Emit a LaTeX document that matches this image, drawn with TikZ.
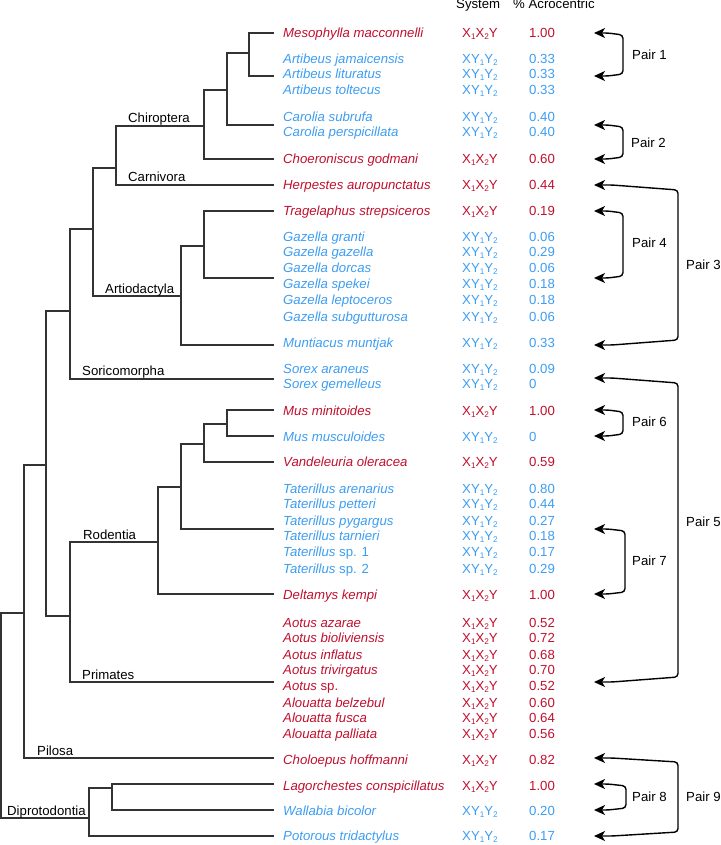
\documentclass[tikz,border=0pt]{standalone}
\usepackage{fontspec}
\setmainfont{Liberation Sans}
\usetikzlibrary{arrows.meta}
\definecolor{colR}{HTML}{C0102E}
\definecolor{colB}{HTML}{3D9DF2}
\definecolor{treeg}{HTML}{333333}
\newcommand\sbx[1]{\raisebox{-0.3ex}{\fontsize{8.2}{8.2}\selectfont #1}}
\newcommand\sysR{X\sbx{1}X\sbx{2}Y}
\newcommand\sysB{XY\sbx{1}Y\sbx{2}}
\begin{document}
\begin{tikzpicture}[x=1pt,y=-1pt,font=\fontsize{13.2}{15}\selectfont,
  txt/.style={inner sep=0pt,anchor=base west},
  edge/.style={draw=treeg,line width=1.2pt,line cap=rect},
  pairarr/.style={draw=black,line width=1.4pt,rounded corners=3.5pt,
     {Stealth[length=11pt,width=10pt,inset=3pt]}-{Stealth[length=11pt,width=10pt,inset=3pt]}}]
\useasboundingbox (0,0) rectangle (720,845);

% header
\node[txt] (hsys) at (456,9) {System};
\node[txt] (hpc) at (513,9) {\% Acrocentric};

% species table
\foreach \yy/\nm/\k/\pc [count=\i] in {
33/Mesophylla macconnelli/R/1.00,
59/Artibeus jamaicensis/B/0.33,
74/Artibeus lituratus/B/0.33,
90/Artibeus toltecus/B/0.33,
117/Carolia subrufa/B/0.40,
132/Carolia perspicillata/B/0.40,
159/Choeroniscus godmani/R/0.60,
185/Herpestes auropunctatus/R/0.44,
211/Tragelaphus strepsiceros/R/0.19,
237/Gazella granti/B/0.06,
252/Gazella gazella/B/0.29,
268/Gazella dorcas/B/0.06,
284/Gazella spekei/B/0.18,
300/Gazella leptoceros/B/0.18,
317/Gazella subgutturosa/B/0.06,
343/Muntiacus muntjak/B/0.33,
369/Sorex araneus/B/0.09,
384/Sorex gemelleus/B/0,
411/Mus minitoides/R/1.00,
437/Mus musculoides/B/0,
462/Vandeleuria oleracea/R/0.59,
489/Taterillus arenarius/B/0.80,
504/Taterillus petteri/B/0.44,
521/Taterillus pygargus/B/0.27,
536/Taterillus tarnieri/B/0.18,
552/Taterillus {\upshape sp. 1}/B/0.17,
569/Taterillus {\upshape sp. 2}/B/0.29,
595/Deltamys kempi/R/1.00,
623/Aotus azarae/R/0.52,
638/Aotus bioliviensis/R/0.72,
655/Aotus inflatus/R/0.68,
670/Aotus trivirgatus/R/0.70,
686/Aotus {\upshape sp.}/R/0.52,
703/Alouatta belzebul/R/0.60,
718/Alouatta fusca/R/0.64,
734/Alouatta palliata/R/0.56,
760/Choloepus hoffmanni/R/0.82,
786/Lagorchestes conspicillatus/R/1.00,
811/Wallabia bicolor/B/0.20,
836/Potorous tridactylus/B/0.17}{
  \node[txt,text=col\k,font=\fontsize{13.2}{15}\selectfont\itshape] (sp\i) at (283,\yy+4.5) {\nm};
  \node[txt,text=col\k] (sy\i) at (462,\yy+4.5) {\csname sys\k\endcsname};
  \node[txt,text=col\k] (pc\i) at (529,\yy+4.5) {\pc};
}

% tree: internal nodes
\coordinate (root) at (1,715);
\coordinate (nPla) at (24,613);
\coordinate (nBor) at (46,465);
\coordinate (nLau2) at (70,311);
\coordinate (nLau) at (93,229);
\coordinate (nCC) at (116,168);
\coordinate (nChi) at (204,126);
\coordinate (nMA) at (227,90);
\coordinate (nArt) at (249,53);
\coordinate (nArtio) at (181,296);
\coordinate (nBov) at (204,246);
\coordinate (nEA) at (70,616);
\coordinate (nRod) at (158,542);
\coordinate (nGer) at (181,487);
\coordinate (nMurA) at (204,444);
\coordinate (nMus) at (227,424);
\coordinate (nDip) at (89,818);
\coordinate (nMac) at (112,788);
% leaves
\coordinate (lMes) at (273,33);
\coordinate (lArt) at (273,76);
\coordinate (lCar) at (273,125);
\coordinate (lCho) at (273,159);
\coordinate (lHer) at (273,185);
\coordinate (lTra) at (273,211);
\coordinate (lGaz) at (273,278);
\coordinate (lMun) at (273,345);
\coordinate (lSor) at (273,379);
\coordinate (lMmi) at (273,410);
\coordinate (lMmu) at (273,436);
\coordinate (lVan) at (273,462);
\coordinate (lTat) at (273,529);
\coordinate (lDel) at (273,594);
\coordinate (lAot) at (273,682);
\coordinate (lChl) at (273,758);
\coordinate (lLag) at (273,784);
\coordinate (lWal) at (273,810);
\coordinate (lPot) at (273,836);

\foreach \p/\c in {root/nPla,root/nDip,nPla/nBor,nPla/lChl,nBor/nLau2,nBor/nEA,
  nLau2/nLau,nLau2/lSor,nLau/nCC,nLau/nArtio,nCC/nChi,nCC/lHer,nChi/nMA,nChi/lCho,
  nMA/nArt,nMA/lCar,nArt/lMes,nArt/lArt,nArtio/nBov,nArtio/lMun,nBov/lTra,nBov/lGaz,
  nEA/nRod,nEA/lAot,nRod/nGer,nRod/lDel,nGer/nMurA,nGer/lTat,nMurA/nMus,nMurA/lVan,
  nMus/lMmi,nMus/lMmu,nDip/nMac,nDip/lPot,nMac/lLag,nMac/lWal}{
  \draw[edge] (\p) |- (\c);
}

% clade labels
\node[txt] (cChi) at (128,123) {Chiroptera};
\node[txt] (cCar) at (128,182) {Carnivora};
\node[txt] (cArt) at (105,293) {Artiodactyla};
\node[txt] (cSor) at (82,375) {Soricomorpha};
\node[txt] (cRod) at (83,539) {Rodentia};
\node[txt] (cPri) at (82,679) {Primates};
\node[txt] (cPil) at (37,755) {Pilosa};
\node[txt] (cDip) at (7,815) {Diprotodontia};

% pair arrows
\coordinate (t1a) at (594,33);  \coordinate (t1b) at (594,76);
\coordinate (t2a) at (594,125); \coordinate (t2b) at (594,159);
\coordinate (t3a) at (594,185); \coordinate (t3b) at (594,345);
\coordinate (t4a) at (594,211); \coordinate (t4b) at (594,278);
\coordinate (t5a) at (594,378); \coordinate (t5b) at (594,682);
\coordinate (t6a) at (594,410); \coordinate (t6b) at (594,436);
\coordinate (t7a) at (594,529); \coordinate (t7b) at (594,594);
\coordinate (t8a) at (594,784); \coordinate (t8b) at (594,810);
\coordinate (t9a) at (594,758); \coordinate (t9b) at (594,836);

\draw[pairarr] (t1a) -- (608,33) -- (623,35) -- (623,74) -- (608,76) -- (t1b);
\draw[pairarr] (t2a) -- (608,125) -- (623,127) -- (623,157) -- (608,159) -- (t2b);
\draw[pairarr] (t4a) -- (608,211) -- (623,213) -- (623,276) -- (608,278) -- (t4b);
\draw[pairarr] (t6a) -- (608,410) -- (623,412) -- (623,434) -- (608,436) -- (t6b);
\draw[pairarr] (t7a) -- (608,529) -- (625,531) -- (625,592) -- (608,594) -- (t7b);
\draw[pairarr] (t8a) -- (608,784) -- (626,786) -- (626,808) -- (608,810) -- (t8b);
\draw[pairarr] (t3a) -- (612,185) -- (678,190) -- (678,340) -- (612,345) -- (t3b);
\draw[pairarr] (t5a) -- (612,378) -- (678,383) -- (678,677) -- (612,682) -- (t5b);
\draw[pairarr] (t9a) -- (612,758) -- (678,762) -- (678,832) -- (612,836) -- (t9b);

\node[txt] (lp1) at (632,59.5) {Pair 1};
\node[txt] (lp2) at (631,147.5) {Pair 2};
\node[txt] (lp3) at (686,269.5) {Pair 3};
\node[txt] (lp4) at (632,247.5) {Pair 4};
\node[txt] (lp5) at (686,526.5) {Pair 5};
\node[txt] (lp6) at (632,426.5) {Pair 6};
\node[txt] (lp7) at (632,565.5) {Pair 7};
\node[txt] (lp8) at (632,801.5) {Pair 8};
\node[txt] (lp9) at (686,801.5) {Pair 9};
\end{tikzpicture}
\end{document}
